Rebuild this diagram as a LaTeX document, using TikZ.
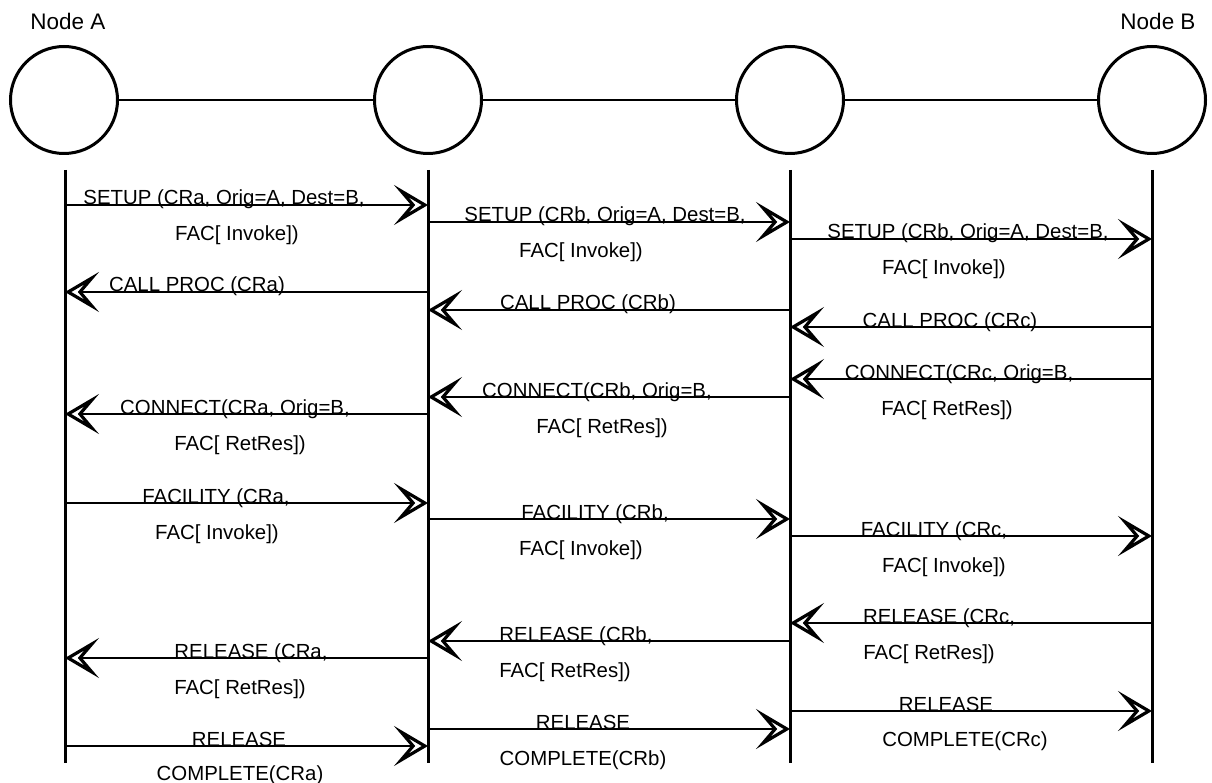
\documentclass[tikz,border=0pt]{standalone}
\usepackage{fontspec}
\setmainfont{Liberation Sans}
\usetikzlibrary{arrows.meta}
\newcommand\mymsg[4]{% name, from lifeline, to lifeline, y
  \coordinate (#1s) at (#2 |- 0,#4);
  \coordinate (#1e) at (#3 |- 0,#4);
  \draw[msg] (#1s) -- (#1e);}
\begin{document}
\begin{tikzpicture}[x=1pt,y=-1pt,
  ent/.style={circle,draw,line width=3pt,minimum size=107pt,inner sep=0pt},
  life/.style={line width=3pt},
  link/.style={line width=2.5pt},
  msg/.style={line width=2.6pt,-{Stealth[open,length=34pt,width=40pt,inset=17pt,line width=3.2pt]}},
  lbl/.style={anchor=base,inner sep=0pt,font=\fontsize{20.4}{24}\selectfont},
  ttl/.style={anchor=base,inner sep=0pt,font=\fontsize{22.5}{26}\selectfont}]
\useasboundingbox (0,0) rectangle (1212,783);
% entities
\node[ent] (n1) at (64,100) {};
\node[ent] (n2) at (428,100) {};
\node[ent] (n3) at (790,100) {};
\node[ent] (n4) at (1152,100) {};
\node[ttl] (la) at (68,30) {Node A};
\node[ttl] (lb) at (1158,30) {Node B};
\draw[link] (n1) -- (n2);
\draw[link] (n2) -- (n3);
\draw[link] (n3) -- (n4);
% lifelines
\coordinate (t1) at (65,170);  \coordinate (b1) at (65,763);
\coordinate (t2) at (428,170); \coordinate (b2) at (428,763);
\coordinate (t3) at (790,170); \coordinate (b3) at (790,763);
\coordinate (t4) at (1152,170); \coordinate (b4) at (1152,763);
\draw[life] (t1) -- (b1);
\draw[life] (t2) -- (b2);
\draw[life] (t3) -- (b3);
\draw[life] (t4) -- (b4);
% column 1
\mymsg{a1}{t1}{t2}{205}
\node[lbl] (a1x) at (224,205) {SETUP (CRa, Orig=A, Dest=B,};
\node[lbl] (a1y) at (237,241) {FAC[ Invoke])};
\mymsg{a2}{t2}{t1}{292}
\node[lbl] (a2x) at (197,292) {CALL PROC (CRa)};
\mymsg{a3}{t2}{t1}{414}
\node[lbl] (a3x) at (235,414) {CONNECT(CRa, Orig=B,};
\node[lbl] (a3y) at (240,450) {FAC[ RetRes])};
\mymsg{a4}{t1}{t2}{503}
\node[lbl] (a4x) at (216,503) {FACILITY (CRa,};
\node[lbl] (a4y) at (217,539) {FAC[ Invoke])};
\mymsg{a5}{t2}{t1}{658}
\node[lbl] (a5x) at (251,658) {RELEASE (CRa,};
\node[lbl] (a5y) at (240,694) {FAC[ RetRes])};
\mymsg{a6}{t1}{t2}{746}
\node[lbl] (a6x) at (239,746) {RELEASE};
\node[lbl] (a6y) at (240,780) {COMPLETE(CRa)};
% column 2
\mymsg{b1m}{t2}{t3}{222}
\node[lbl] (b1x) at (605,222) {SETUP (CRb, Orig=A, Dest=B,};
\node[lbl] (b1y) at (581,258) {FAC[ Invoke])};
\mymsg{b2m}{t3}{t2}{310}
\node[lbl] (b2x) at (588,310) {CALL PROC (CRb)};
\mymsg{b3m}{t3}{t2}{397}
\node[lbl] (b3x) at (597,397) {CONNECT(CRb, Orig=B,};
\node[lbl] (b3y) at (602,433) {FAC[ RetRes])};
\mymsg{b4m}{t2}{t3}{519}
\node[lbl] (b4x) at (595,519) {FACILITY (CRb,};
\node[lbl] (b4y) at (581,555) {FAC[ Invoke])};
\mymsg{b5m}{t3}{t2}{641}
\node[lbl] (b5x) at (576,641) {RELEASE (CRb,};
\node[lbl] (b5y) at (565,677) {FAC[ RetRes])};
\mymsg{b6m}{t2}{t3}{729}
\node[lbl] (b6x) at (583,729) {RELEASE};
\node[lbl] (b6y) at (583,765) {COMPLETE(CRb)};
% column 3
\mymsg{c1}{t3}{t4}{239}
\node[lbl] (c1x) at (968,239) {SETUP (CRb, Orig=A, Dest=B,};
\node[lbl] (c1y) at (944,275) {FAC[ Invoke])};
\mymsg{c2}{t4}{t3}{327}
\node[lbl] (c2x) at (950,327) {CALL PROC (CRc)};
\mymsg{c3}{t4}{t3}{379}
\node[lbl] (c3x) at (959,379) {CONNECT(CRc, Orig=B,};
\node[lbl] (c3y) at (947,415) {FAC[ RetRes])};
\mymsg{c4}{t3}{t4}{536}
\node[lbl] (c4x) at (934,536) {FACILITY (CRc,};
\node[lbl] (c4y) at (944,572) {FAC[ Invoke])};
\mymsg{c5}{t4}{t3}{623}
\node[lbl] (c5x) at (939,623) {RELEASE (CRc,};
\node[lbl] (c5y) at (929,659) {FAC[ RetRes])};
\mymsg{c6}{t3}{t4}{711}
\node[lbl] (c6x) at (946,711) {RELEASE};
\node[lbl] (c6y) at (965,746) {COMPLETE(CRc)};
\end{tikzpicture}
\end{document}
